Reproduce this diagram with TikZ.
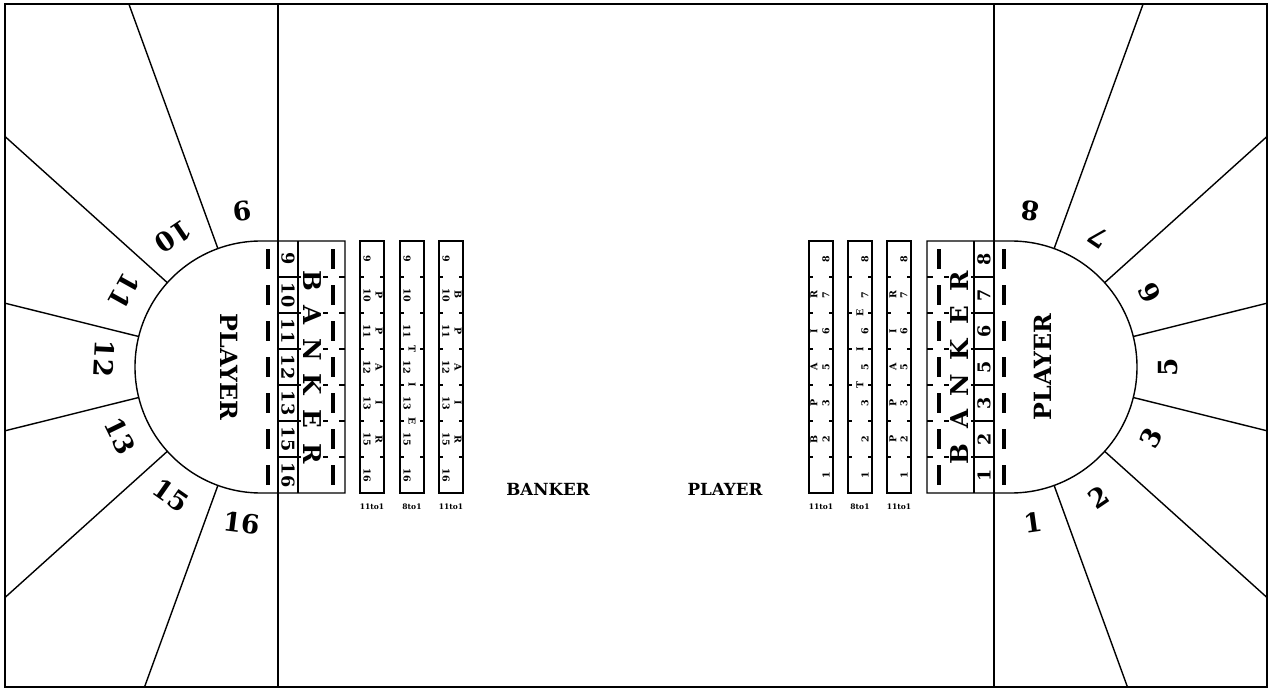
\documentclass[tikz,border=0pt]{standalone}
\usepackage{fontspec}
\setmainfont{DejaVu Serif}
\usetikzlibrary{positioning, calc}
\tikzset{
    feltline/.style={line width=0.8pt},
    stripbox/.style={draw, line width=1.1pt},
    markbar/.style={line width=2.2pt},
    tickmark/.style={line width=0.8pt},
    seatnum/.style={font=\fontsize{15}{15}\selectfont\bfseries, inner sep=0pt},
    playerlbl/.style={font=\fontsize{13.5}{13.5}\selectfont\bfseries, inner sep=0pt},
    bankerltr/.style={font=\fontsize{14}{14}\selectfont\bfseries, inner sep=0pt},
    boxnum/.style={font=\fontsize{10}{10}\selectfont\bfseries, inner sep=0pt},
    striptxt/.style={font=\fontsize{5.4}{5.4}\selectfont\bfseries, inner sep=0pt},
    oddslbl/.style={font=\fontsize{4.3}{4.3}\selectfont\bfseries, inner sep=0pt},
    betlbl/.style={font=\fontsize{9.5}{9.5}\selectfont\bfseries, inner sep=0pt}
}

\begin{document}
\begin{tikzpicture}[x=0.02cm, y=0.02cm]
    \useasboundingbox (0,0) rectangle (1272,691);
    \coordinate (lc) at (261,324);
    \coordinate (rc) at (1011,324);

    % table frame and seat lines
    \draw[feltline] (5,4) rectangle (1267,687);
    \draw[feltline] (278,4) -- (278,687);
    \draw[feltline] (994,4) -- (994,687);
    \begin{scope}
        \clip (5,4) rectangle (1267,687);
        \foreach \a in {110,138,166,194,222,250}
            \draw[feltline] ($(lc)+(\a:126)$) -- ($(lc)+(\a:900)$);
        \foreach \a in {70,42,14,-14,-42,-70}
            \draw[feltline] ($(rc)+(\a:126)$) -- ($(rc)+(\a:900)$);
    \end{scope}

    % player half circles with banker boxes
    \draw[feltline] (345,450) -- (261,450) arc[start angle=90, end angle=270, radius=126] -- (345,198) -- cycle;
    \draw[feltline] (927,450) -- (1011,450) arc[start angle=90, end angle=-90, radius=126] -- (927,198) -- cycle;
    \draw[feltline] (298,198) -- (298,450);
    \draw[feltline] (974,198) -- (974,450);
    \foreach \i in {1,...,6} {
        \draw[tickmark] (278,{450-36*\i}) -- (301,{450-36*\i});
        \draw[tickmark] (323,{450-36*\i}) -- (328,{450-36*\i});
        \draw[tickmark] (339,{450-36*\i}) -- (345,{450-36*\i});
        \draw[tickmark] (971,{450-36*\i}) -- (994,{450-36*\i});
        \draw[tickmark] (944,{450-36*\i}) -- (949,{450-36*\i});
        \draw[tickmark] (927,{450-36*\i}) -- (933,{450-36*\i});
    }
    \foreach \i in {1,...,7} {
        \draw[markbar] (268,{478-36*\i}) -- (268,{458-36*\i});
        \draw[markbar] (333,{478-36*\i}) -- (333,{458-36*\i});
        \draw[markbar] (1004,{478-36*\i}) -- (1004,{458-36*\i});
        \draw[markbar] (939,{478-36*\i}) -- (939,{458-36*\i});
    }
    \foreach \n [count=\i] in {9,10,11,12,13,15,16}
        \node[boxnum, rotate=-90] (lnum\i) at (288,{468-36*\i}) {\n};
    \foreach \n [count=\i] in {1,2,3,5,6,7,8}
        \node[boxnum, rotate=90] (rnum\i) at (984,{180+36*\i}) {\n};
    \foreach \c [count=\i] in {B,A,N,K,E,R} {
        \node[bankerltr, rotate=-90] (lbk\i) at (312,{445-34.6*\i}) {\c};
        \node[bankerltr, rotate=90] (rbk\i) at (960,{202.4+34.6*\i}) {\c};
    }
    \node[playerlbl, rotate=-90] (lplayer) at (229,324) {PLAYER};
    \node[playerlbl, rotate=90] (rplayer) at (1043,324) {PLAYER};

    % seat numbers
    \foreach \n/\a in {9/97,10/124,11/151,12/177,13/206,15/235,16/263}
        \node[seatnum, rotate=\a+90] (seat\n) at ($(lc)+(\a:157)$) {\n};
    \foreach \n/\a in {8/83,7/56,6/28,5/0,3/-27,2/-56,1/-82}
        \node[seatnum, rotate=\a+90] (seat\n) at ($(rc)+(\a:157)$) {\n};

    % side bet strips
    \foreach \sx in {360,400,439,809,848,887} {
        \draw[stripbox] (\sx,198) rectangle ++(24,252);
        \foreach \i in {1,...,6} {
            \draw[tickmark] (\sx,{450-36*\i}) -- ++(4,0);
            \draw[tickmark] (\sx+24,{450-36*\i}) -- ++(-4,0);
        }
    }
    \foreach \sx in {360,400,439}
        \foreach \n [count=\i] in {9,10,11,12,13,15,16}
            \node[striptxt, rotate=-90] at (\sx+7,{468-36*\i}) {\n};
    \foreach \sx in {809,848,887}
        \foreach \n [count=\i] in {1,2,3,5,6,7,8}
            \node[striptxt, rotate=90] at (\sx+17,{180+36*\i}) {\n};
    \foreach \c [count=\i] in {P,P,A,I,R} {
        \node[striptxt, rotate=-90] (lpp\i) at (379,{432-36*\i}) {\c};
        \node[striptxt, rotate=90] (rpp\i) at (893,{216+36*\i}) {\c};
    }
    \foreach \c [count=\i] in {B,P,A,I,R} {
        \node[striptxt, rotate=-90] (lbp\i) at (458,{432-36*\i}) {\c};
        \node[striptxt, rotate=90] (rbp\i) at (814,{216+36*\i}) {\c};
    }
    \foreach \c [count=\i] in {T,I,E} {
        \node[striptxt, rotate=-90, fill=white, inner sep=0.3pt] (ltie\i) at (412,{378-36*\i}) {\c};
        \node[striptxt, rotate=90, fill=white, inner sep=0.3pt] (rtie\i) at (860,{270+36*\i}) {\c};
    }
    \node[oddslbl] (lodds1) at (372,184) {11to1};
    \node[oddslbl] (lodds2) at (412,184) {8to1};
    \node[oddslbl] (lodds3) at (451,184) {11to1};
    \node[oddslbl] (rodds1) at (821,184) {11to1};
    \node[oddslbl] (rodds2) at (860,184) {8to1};
    \node[oddslbl] (rodds3) at (899,184) {11to1};

    % main bet labels
    \node[betlbl] (bankerbet) at (548,202) {BANKER};
    \node[betlbl] (playerbet) at (725,202) {PLAYER};
\end{tikzpicture}
\end{document}
